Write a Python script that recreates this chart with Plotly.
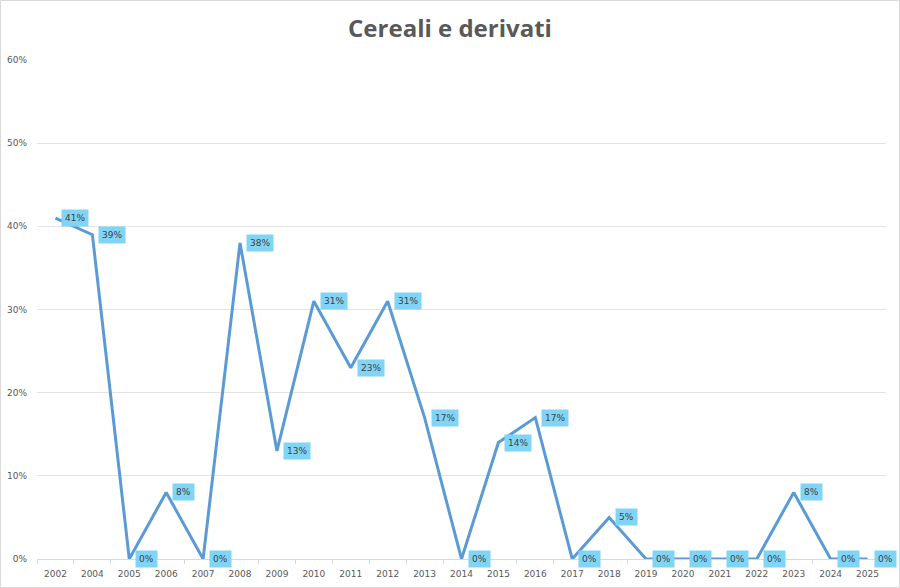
import plotly.graph_objects as go

# anni (il 2003 manca nel grafico originale)
anni = ['2002', '2004', '2005', '2006', '2007', '2008', '2009', '2010', '2011', '2012', '2013',
        '2014', '2015', '2016', '2017', '2018', '2019', '2020', '2021', '2022', '2023', '2024', '2025']
valori = [0.41, 0.39, 0.0, 0.08, 0.0, 0.38, 0.13, 0.31, 0.23, 0.31, 0.17,
          0.0, 0.14, 0.17, 0.0, 0.05, 0.0, 0.0, 0.0, 0.0, 0.08, 0.0, 0.0]
tick_y = [0, 0.1, 0.2, 0.3, 0.4, 0.5, 0.6]
tick_y_testo = ['0%', '10%', '20%', '30%', '40%', '50%', '60%']

fig = go.Figure()

fig.add_trace(go.Scatter(x=anni, y=valori, mode='lines',
                         line=dict(color='#5b9bd5', width=3),
                         hoverinfo='x+y', showlegend=False))

# etichette dei dati con sfondo azzurro (x come indice di categoria)
for i, v in enumerate(valori):
    fig.add_annotation(x=i, y=v, text=f'{round(v * 100)}%', showarrow=False,
                       xanchor='left', yanchor='middle', xshift=6,
                       bgcolor='#80d5f7', borderpad=3,
                       font=dict(family='DejaVu Sans', size=9, color='#404040'))

fig.update_layout(
    title=dict(text='<b>Cereali e derivati</b>', x=0.5, xanchor='center', y=0.952, yanchor='middle',
               font=dict(family='Open Sans', size=24, color='#595959')),
    width=900, height=588,
    margin=dict(l=37, r=14, t=60, b=29),
    plot_bgcolor='white', paper_bgcolor='white',
    xaxis=dict(type='category', range=[-0.5, len(anni) - 0.5], autorange=False,
               showgrid=False, ticks='outside', tickson='boundaries',
               ticklen=4, tickcolor='#d9d9d9', showline=True, linecolor='#d9d9d9',
               ticklabelstandoff=6, automargin=False,
               tickfont=dict(family='DejaVu Sans', size=9, color='#595959'), fixedrange=True),
    yaxis=dict(range=[0, 0.6], autorange=False, tickvals=tick_y, ticktext=tick_y_testo,
               showgrid=True, gridcolor='#e3e3e3', gridwidth=1, zeroline=False,
               ticks='', ticklabelstandoff=9, automargin=False,
               tickfont=dict(family='DejaVu Sans', size=9, color='#595959'),
               fixedrange=True),
    shapes=[dict(type='rect', xref='paper', yref='paper', x0=-36.5 / 849, x1=1 + 13.5 / 849,
                 y0=-28.5 / 499, y1=1 + 59.5 / 499, line=dict(color='#d9d9d9', width=1))],
)

# niente margine del body, così la figura riempie la finestra
fig.write_html('out.html', config={'displayModeBar': False},
               post_script="document.body.style.margin='0';")
